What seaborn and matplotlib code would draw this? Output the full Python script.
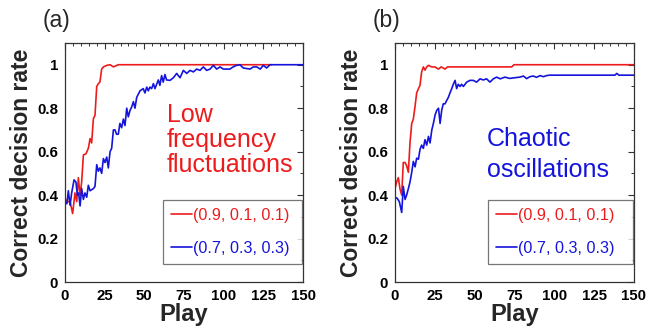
import numpy as np
import pandas as pd
import seaborn as sns
import matplotlib.pyplot as plt
from matplotlib.ticker import MultipleLocator

# ---------------- data ----------------
# Panel (a): low frequency fluctuations
a_red_play = [0, 1.5, 3.2, 4.8, 6.3, 7.4, 8.4, 9.5, 10.5, 11.6, 13.2, 14.7, 15.8, 16.8,
              17.9, 18.9, 20, 21, 22, 23.1, 24.2, 26.3, 28.4, 30.5, 33.6, 36, 130]
a_red_rate = [0.384, 0.37, 0.37, 0.315, 0.41, 0.37, 0.48, 0.40, 0.46, 0.585, 0.59, 0.615, 0.66, 0.64,
              0.752, 0.767, 0.90, 0.913, 0.92, 0.98, 0.99, 0.997, 1.0, 0.99, 1.0, 1.0, 1.0]

a_blue_play = [0, 1.2, 2.1, 3.2, 4.2, 5.7, 6.9, 7.8, 8.6, 9.5, 10.5, 11.6, 12.6, 13.7, 14.7, 15.8,
               17.9, 18.9, 20, 21, 22, 23.1, 24.2, 25.2, 26.3, 27.3, 28.4, 29.4, 30.5, 31.5, 32.5,
               33.6, 34.6, 35.7, 36.8, 37.8, 38.9, 39.9, 41, 42, 43.1, 44.1, 45.2, 47.3, 49.3,
               50.4, 51.5, 52.5, 53.5, 54.6, 55.7, 56.7, 58.8, 59.8, 60.9, 61.9, 63, 64, 66.2,
               68.3, 70.4, 72.5, 74.6, 76.7, 78.8, 80.9, 83, 85.1, 87.2, 89.3, 91.4, 93.5, 95.6,
               97.7, 99.8, 103.9, 106, 108.1, 110.2, 112.4, 116.6, 118.7, 120.9, 123, 125, 127.1,
               129.2, 131.3, 150]
a_blue_rate = [0.37, 0.36, 0.42, 0.353, 0.41, 0.47, 0.46, 0.40, 0.41, 0.35, 0.43, 0.38, 0.41, 0.39,
               0.445, 0.42, 0.43, 0.44, 0.54, 0.51, 0.525, 0.50, 0.568, 0.55, 0.575, 0.525, 0.60,
               0.615, 0.70, 0.70, 0.68, 0.68, 0.73, 0.71, 0.75, 0.72, 0.80, 0.76, 0.79, 0.805, 0.83,
               0.80, 0.85, 0.88, 0.89, 0.87, 0.897, 0.88, 0.897, 0.89, 0.913, 0.89, 0.93, 0.905,
               0.95, 0.92, 0.955, 0.93, 0.928, 0.94, 0.96, 0.94, 0.974, 0.96, 0.974, 0.967, 0.98,
               0.974, 0.99, 0.974, 0.98, 0.997, 0.98, 0.99, 0.98, 0.98, 0.99, 0.997, 1.0, 0.985,
               0.98, 0.99, 0.99, 0.98, 0.997, 0.985, 1.0, 1.0, 1.0]

# Panel (b): chaotic oscillations
b_red_play = [0, 1.0, 2.1, 3.1, 4.2, 5.2, 6.3, 7.3, 8.4, 9.4, 10.5, 11.5, 12.6, 13.6, 14.7,
              15.7, 16.7, 17.8, 18.8, 19.9, 21, 23, 25, 27.3, 29, 31.4, 33, 40, 73.2, 74.7, 150]
b_red_rate = [0.43, 0.46, 0.48, 0.43, 0.40, 0.55, 0.55, 0.535, 0.505, 0.64, 0.73, 0.75, 0.81, 0.87,
              0.89, 0.905, 0.966, 0.99, 0.975, 0.99, 0.997, 0.99, 0.99, 0.98, 0.99, 0.98, 0.99,
              0.99, 0.99, 1.0, 1.0]

b_blue_play = [0, 1.2, 2.7, 4.2, 5.2, 6.3, 7.3, 8.4, 9.4, 10.5, 11.5, 12.6, 13.6, 14.7, 15.7,
               16.7, 17.8, 18.8, 19.9, 21, 22, 23.1, 24.1, 25.2, 26.2, 27.3, 28.3, 29.3, 30.3,
               31.4, 32.4, 33.5, 34.5, 35.6, 36.6, 37.7, 38.7, 39.7, 40.8, 41.8, 42.9, 45, 47.1,
               49.1, 51.2, 53.4, 55.4, 57.5, 59.6, 61.7, 63.8, 66, 69, 72, 75, 78.4, 80.6, 82.6,
               84.7, 86.8, 88.9, 91, 93.1, 95.2, 97, 138, 139.2, 140.5, 150]
b_blue_rate = [0.387, 0.387, 0.37, 0.32, 0.44, 0.38, 0.40, 0.43, 0.46, 0.505, 0.555, 0.53, 0.57,
               0.565, 0.61, 0.63, 0.615, 0.655, 0.63, 0.67, 0.64, 0.70, 0.73, 0.77, 0.79, 0.80,
               0.73, 0.79, 0.82, 0.82, 0.835, 0.85, 0.87, 0.89, 0.91, 0.928, 0.89, 0.91, 0.90,
               0.91, 0.90, 0.92, 0.928, 0.928, 0.92, 0.935, 0.93, 0.935, 0.92, 0.935, 0.943, 0.935,
               0.943, 0.937, 0.94, 0.943, 0.948, 0.936, 0.945, 0.948, 0.942, 0.95, 0.945, 0.95,
               0.952, 0.952, 0.96, 0.952, 0.952]

series_labels = ["(0.9, 0.1, 0.1)", "(0.7, 0.3, 0.3)"]
panel_letters = ["(a)", "(b)"]
panel_notes = [["Low", "frequency", "fluctuations"], ["Chaotic", "oscillations"]]
x_ticks = [0, 25, 50, 75, 100, 125, 150]
y_ticks = [0, 0.2, 0.4, 0.6, 0.8, 1]
y_ticklabels = ["0", "0.2", "0.4", "0.6", "0.8", "1"]

RED = "#ec1c1c"
BLUE = "#1414dc"

sns.set_style("white")
plt.rcParams["font.family"] = ["Liberation Sans", "DejaVu Sans"]

fig = plt.figure(figsize=(6.71, 3.29), dpi=100)
ax_a = fig.add_axes([65 / 671, 1 - 282 / 329, 238 / 671, 239 / 329])
ax_b = fig.add_axes([395 / 671, 1 - 282 / 329, 239 / 671, 239 / 329])

panels = [
    (ax_a, a_red_play, a_red_rate, a_blue_play, a_blue_rate),
    (ax_b, b_red_play, b_red_rate, b_blue_play, b_blue_rate),
]
# legend boxes in axes fraction: (x0, y_top, width)
legend_boxes = [((163 - 65) / 238, (282 - 200) / 239, (302 - 163) / 238),
                ((488 - 395) / 239, (282 - 200) / 239, (633 - 488) / 239)]

for i, (ax, rp, rr, bp, br) in enumerate(panels):
    df = pd.concat([
        pd.DataFrame({"Play": rp, "rate": rr, "series": series_labels[0]}),
        pd.DataFrame({"Play": bp, "rate": br, "series": series_labels[1]}),
    ])
    sns.lineplot(data=df, x="Play", y="rate", hue="series",
                 palette={series_labels[0]: RED, series_labels[1]: BLUE},
                 ax=ax, linewidth=1.2, estimator=None, sort=False)
    ax.set_xlim(0, 150)
    ax.set_ylim(0, 1.1)
    ax.set_xticks(x_ticks)
    ax.set_yticks(y_ticks)
    ax.set_yticklabels(y_ticklabels)
    ax.xaxis.set_minor_locator(MultipleLocator(5))
    ax.yaxis.set_minor_locator(MultipleLocator(0.1))
    ax.tick_params(which="both", direction="in", top=True, right=True,
                   colors="#333333", labelcolor="black")
    ax.tick_params(which="major", length=4, width=0.8, labelsize=10.8, pad=5)
    ax.tick_params(which="minor", length=2.5, width=0.7)
    for lab in ax.get_xticklabels() + ax.get_yticklabels():
        lab.set_fontweight("bold")
    for sp in ax.spines.values():
        sp.set_color("#333333")
        sp.set_linewidth(0.9)
    ax.set_xlabel("Play", fontsize=17, fontweight="bold", labelpad=0)
    ax.set_ylabel("Correct decision rate", fontsize=16.5, fontweight="bold", labelpad=3)

    x0, ytop, w = legend_boxes[i]
    leg = ax.legend(loc="upper left", bbox_to_anchor=(x0, ytop - 0.3, w, 0.3),
                    mode="expand", borderaxespad=0, fontsize=11.6, handlelength=1.3,
                    handletextpad=0.05, labelspacing=1.1, borderpad=0.5, frameon=True,
                    fancybox=False, labelcolor="linecolor", title=None)
    leg.get_frame().set_edgecolor("#555555")
    leg.get_frame().set_linewidth(0.9)

fig.text(43 / 671, 1 - 21 / 329, panel_letters[0], fontsize=16.5, ha="left", va="center")
fig.text(373 / 671, 1 - 21 / 329, panel_letters[1], fontsize=16.5, ha="left", va="center")

# annotations
ax_a.text((167 - 65) / 238, (282 - 103) / 239, "\n".join(panel_notes[0]),
          transform=ax_a.transAxes, color=RED, fontsize=18, ha="left", va="top",
          linespacing=1.05)
ax_b.text((487 - 395) / 239, (282 - 127) / 239, "\n".join(panel_notes[1]),
          transform=ax_b.transAxes, color=BLUE, fontsize=18, ha="left", va="top",
          linespacing=1.35)

fig.savefig("out.png", dpi=100)
